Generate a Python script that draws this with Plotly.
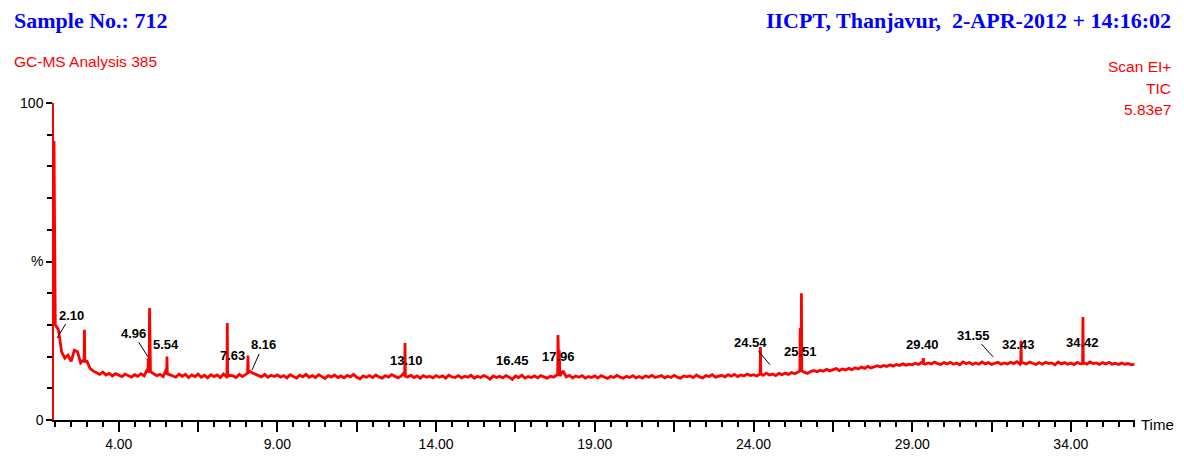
import numpy as np
import plotly.graph_objects as go

# ---------------- data ----------------
# leading edge of the solvent peak (time min, %)
start_times = [1.96, 1.98]
start_values = [88.0, 50.0]

# baseline TIC, sampled every 0.1 min from 2.0 to 36.0 (%), one row per minute
base_start = 2.0
base_step = 0.1
baseline_values = [
    30.0, 28.5, 21.5, 19.5, 20.5, 18.5, 22.0, 21.5, 18.0, 19.0,   # 2
    18.5, 16.2, 15.4, 15.0, 14.4, 15.1, 14.2, 14.7, 13.9, 14.6,   # 3
    14.1, 13.7, 14.5, 13.9, 13.5, 14.3, 13.8, 14.6, 13.9, 16.0,   # 4
    15.2, 14.6, 14.0, 14.4, 13.7, 16.0, 14.3, 14.0, 13.5, 14.5,   # 5
    13.8, 14.4, 13.4, 14.2, 13.7, 14.5, 13.5, 14.1, 13.3, 14.3,   # 6
    13.7, 14.2, 13.4, 14.5, 13.6, 14.1, 13.9, 13.4, 14.4, 13.7,   # 7
    14.3, 15.6, 14.9, 14.5, 13.9, 13.6, 14.4, 13.5, 14.1, 13.7,   # 8
    14.2, 13.5, 14.0, 13.3, 14.3, 13.8, 13.2, 14.1, 13.6, 14.4,   # 9
    13.5, 14.0, 13.4, 14.3, 13.7, 13.1, 14.0, 13.6, 14.2, 13.4,   # 10
    13.9, 13.3, 14.1, 13.6, 14.4, 13.5, 13.0, 13.9, 13.5, 14.0,   # 11
    13.4, 14.2, 13.6, 13.2, 14.0, 13.5, 14.3, 13.7, 13.3, 13.9,   # 12
    15.0, 13.6, 14.1, 13.4, 13.9, 13.2, 14.0, 13.5, 13.8, 13.3,   # 13
    14.0, 13.5, 13.9, 13.2, 14.1, 13.6, 13.4, 14.0, 13.3, 13.8,   # 14
    13.5, 14.1, 13.2, 13.8, 13.4, 14.0, 13.6, 12.9, 13.9, 13.4,   # 15
    13.8, 13.3, 14.0, 13.5, 12.8, 13.9, 13.4, 14.1, 13.2, 13.7,   # 16
    13.4, 13.9, 13.3, 14.0, 13.6, 13.2, 13.8, 13.5, 14.2, 13.9,   # 17
    15.5, 13.6, 14.1, 13.3, 13.9, 13.5, 14.0, 13.2, 13.7, 13.4,   # 18
    13.9, 13.3, 14.0, 13.6, 13.1, 13.8, 13.4, 14.1, 13.5, 13.2,   # 19
    13.8, 13.4, 14.0, 13.3, 13.7, 13.2, 13.9, 13.5, 14.1, 13.4,   # 20
    13.6, 14.0, 13.3, 13.8, 13.4, 14.1, 13.5, 13.2, 13.9, 13.6,   # 21
    13.9, 13.4, 14.2, 13.6, 13.3, 14.0, 13.7, 14.3, 13.5, 13.9,   # 22
    14.1, 13.6, 14.3, 13.8, 14.4, 13.7, 14.2, 13.9, 14.5, 14.0,   # 23
    14.3, 13.9, 14.6, 14.1, 14.8, 14.2, 14.5, 14.0, 14.7, 14.3,   # 24
    14.8, 14.4, 15.0, 14.6, 15.2, 15.8, 15.1, 14.7, 15.3, 15.6,   # 25
    15.2, 15.7, 15.4, 16.0, 15.5, 15.9, 16.2, 15.6, 16.1, 15.8,   # 26
    16.3, 15.9, 16.5, 16.1, 16.7, 16.3, 16.9, 16.4, 16.8, 17.1,   # 27
    16.7, 17.2, 16.9, 17.4, 17.0, 17.5, 17.2, 17.7, 17.3, 17.6,   # 28
    17.4, 17.9, 17.5, 18.2, 17.6, 18.0, 17.7, 18.3, 17.8, 17.5,   # 29
    18.1, 17.7, 18.2, 17.6, 18.0, 17.4, 18.3, 17.8, 18.1, 17.5,   # 30
    18.0, 17.6, 18.3, 17.7, 18.1, 17.5, 17.9, 18.2, 17.6, 18.0,   # 31
    17.7, 18.2, 17.8, 18.4, 17.6, 18.0, 17.7, 18.3, 17.9, 17.5,   # 32
    18.1, 17.6, 18.2, 17.8, 18.0, 17.4, 18.3, 17.7, 18.1, 17.6,   # 33
    18.0, 17.5, 18.2, 17.7, 18.1, 17.6, 18.3, 17.8, 18.0, 17.5,   # 34
    18.1, 17.7, 18.2, 17.6, 17.9, 17.5, 18.0, 17.6, 17.8, 17.4,   # 35
    17.6,                                                         # 36
]

# sharp peaks: apex time (min), apex height (%), local foot level (%)
peak_times = [2.92, 4.93, 4.97, 5.52, 7.42, 8.07, 13.02, 17.84, 17.88,
              24.22, 25.47, 25.51, 29.35, 32.43, 34.38]
peak_heights = [28.5, 19.5, 35.3, 20.0, 30.6, 20.3, 24.3, 26.8, 22.0,
                23.0, 29.0, 40.0, 19.5, 25.0, 32.5]
peak_feet = [18.5, 15.0, 15.5, 14.5, 13.8, 14.8, 13.8, 14.0, 14.0,
             14.5, 15.5, 15.5, 17.8, 18.0, 17.8]

# retention-time labels
label_texts = ["2.10", "4.96", "5.54", "7.63", "8.16", "13.10", "16.45", "17.96",
               "24.54", "25.51", "29.40", "31.55", "32.43", "34.42"]

# header texts
title_left = "Sample No.: 712"
subtitle_left = "GC-MS Analysis 385"
title_right = "IICPT, Thanjavur,  2-APR-2012 + 14:16:02"
info_right = ["Scan EI+", "TIC", "5.83e7"]

x_tick_values = [4, 9, 14, 19, 24, 29, 34]
x_tick_labels = ["4.00", "9.00", "14.00", "19.00", "24.00", "29.00", "34.00"]

# ---------------- layout / placement (not data) ----------------
label_pos = [(2.50, 33.1), (4.45, 27.4), (5.49, 23.7), (7.57, 20.5), (8.55, 23.7),
             (13.08, 18.9), (16.42, 18.9), (17.84, 19.9), (23.92, 24.6), (25.47, 21.5),
             (29.34, 23.7), (30.92, 26.8), (32.34, 23.7), (34.36, 24.3)]
leader_to = {"2.10": (2.06, 25.9), "4.96": (4.92, 19.9), "8.16": (8.20, 15.8),
             "24.54": (24.52, 17.4), "31.55": (31.55, 19.9)}

W, H = 1184, 457
ML, MR, MT, MB = 54, 49, 103, 37
PW, PH = W - ML - MR, H - MT - MB
X_MIN, X_MAX = 1.96, 36.02


def px(xp):
    return (xp - ML) / PW


def py(yp):
    return (H - MB - yp) / PH


# ---------------- build trace ----------------
base_times = [round(base_start + base_step * i, 2) for i in range(len(baseline_values))]
pts = list(zip(start_times, start_values)) + list(zip(base_times, baseline_values))
for t, h, f in zip(peak_times, peak_heights, peak_feet):
    pts += [(round(t - 0.01, 3), f), (t, h), (round(t + 0.01, 3), f)]
pts.sort(key=lambda p: p[0])
xs = [p[0] for p in pts]
ys = [p[1] for p in pts]

fig = go.Figure()
fig.add_trace(go.Scatter(x=xs, y=ys, mode="lines",
                         line=dict(color="#ff0000", width=2.8), hoverinfo="skip",
                         showlegend=False))

annotations = []
lab_font = dict(family="Liberation Sans, Arial", size=13, color="black")
for txt, (lx, ly) in zip(label_texts, label_pos):
    if txt in leader_to:
        hx, hy = leader_to[txt]
        annotations.append(dict(x=hx, y=hy, xref="x", yref="y", ax=lx, ay=ly,
                                axref="x", ayref="y", text="<b>%s</b>" % txt,
                                showarrow=True, arrowhead=0, arrowwidth=1,
                                arrowcolor="black", font=lab_font))
    else:
        annotations.append(dict(x=lx, y=ly, xref="x", yref="y", text="<b>%s</b>" % txt,
                                showarrow=False, font=lab_font))

serif_left = dict(family="Liberation Serif, Times New Roman", size=22, color="#0000ff")
serif_right = dict(family="Liberation Serif, Times New Roman", size=22, color="#0000ff")
sans_red = dict(family="Liberation Sans, Arial", size=15.5, color="#ff0000")
annotations += [
    dict(x=px(12), y=py(20), xref="paper", yref="paper", xanchor="left", yanchor="middle",
         text="<b>%s</b>" % title_left, showarrow=False, font=serif_left),
    dict(x=px(12), y=py(62), xref="paper", yref="paper", xanchor="left", yanchor="middle",
         text=subtitle_left, showarrow=False, font=sans_red),
    dict(x=px(1173), y=py(20), xref="paper", yref="paper", xanchor="right", yanchor="middle",
         text="<b>%s</b>" % title_right, showarrow=False, font=serif_right),
]
for txt, yp in zip(info_right, [66, 88, 110]):
    annotations.append(dict(x=px(1173), y=py(yp), xref="paper", yref="paper",
                            xanchor="right", yanchor="middle", text=txt,
                            showarrow=False, font=sans_red))
annotations.append(dict(x=px(1139), y=py(424), xref="paper", yref="paper",
                        xanchor="left", yanchor="middle", text="Time", showarrow=False,
                        font=dict(family="Liberation Sans, Arial", size=15, color="black")))

# x ticks: long ticks every 2.5 min (labelled every 5), short ticks every 0.5 min
long_ticks = [4 + 2.5 * k for k in range(13) if 4 + 2.5 * k <= X_MAX]
long_text = [x_tick_labels[x_tick_values.index(v)] if v in x_tick_values else "" for v in long_ticks]

fig.update_layout(
    width=W, height=H,
    margin=dict(l=ML, r=MR, t=MT, b=MB, pad=0, autoexpand=False),
    paper_bgcolor="white", plot_bgcolor="white",
    font=dict(family="Liberation Sans, Arial", size=14, color="black"),
    annotations=annotations,
    xaxis=dict(range=[X_MIN, X_MAX], showgrid=False, zeroline=False, automargin=False,
               showline=True, linecolor="black", linewidth=2,
               tickmode="array", tickvals=long_ticks, ticktext=long_text,
               ticks="outside", ticklen=10, tickwidth=1.5, tickcolor="black",
               tickfont=dict(size=14),
               minor=dict(dtick=0.5, tick0=0, ticks="outside", ticklen=5,
                          tickwidth=1.5, tickcolor="black", showgrid=False)),
    yaxis=dict(range=[0, 100], showgrid=False, zeroline=False, automargin=False,
               showline=True, linecolor="#ff0000", linewidth=1.5,
               tickmode="array", tickvals=[0, 50, 100], ticktext=["0", "%", "100"],
               ticks="outside", ticklen=6, tickwidth=1.5, tickcolor="black",
               tickfont=dict(size=14),
               minor=dict(dtick=10, tick0=0, ticks="outside", ticklen=5,
                          tickwidth=1.5, tickcolor="black", showgrid=False)),
)

fig.write_html("out.html", config={"displayModeBar": False},
               post_script="document.body.style.margin='0px';document.body.style.padding='0px';")
